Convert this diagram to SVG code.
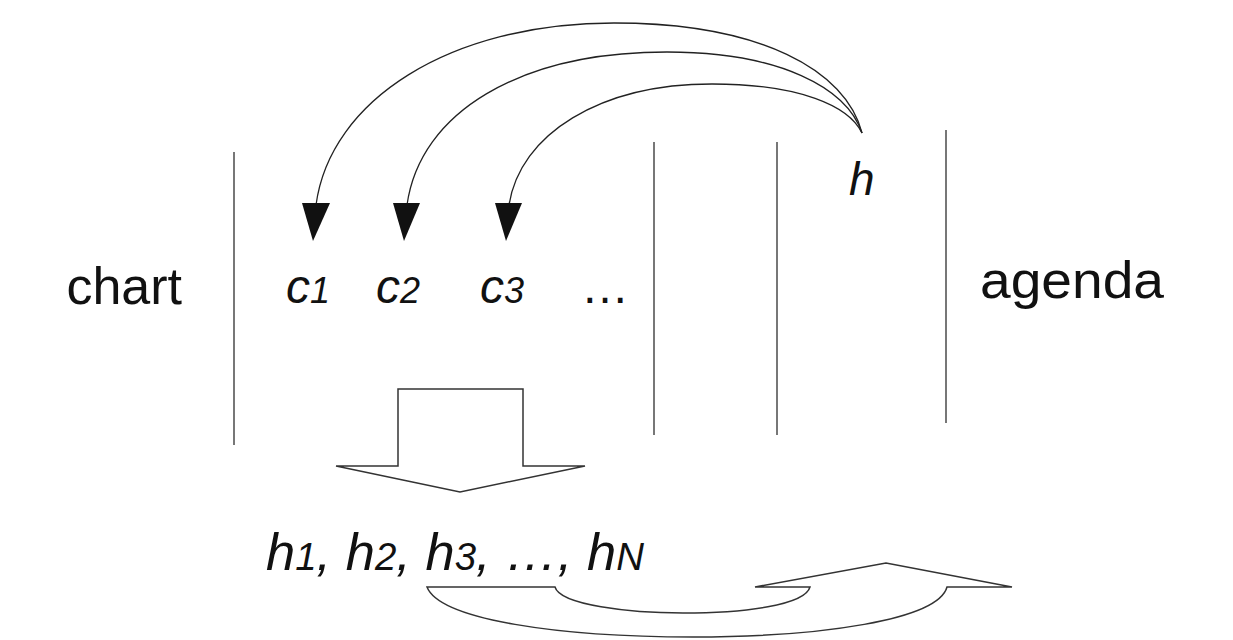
<svg xmlns="http://www.w3.org/2000/svg" width="1233" height="640" viewBox="0 0 1233 640">
<style>
.t{font-family:"Liberation Sans",Arial,sans-serif;fill:#111}
.i{font-style:italic}
.vl{stroke:#555;stroke-width:1.6;fill:none}
.arc{stroke:#222;stroke-width:1.3;fill:none}
.head{fill:#111;stroke:none}
.bigarrow{fill:#fff;stroke:#333;stroke-width:1.5;stroke-linejoin:miter}
</style>
<rect width="1233" height="640" fill="#fff"/>
<g id="dividers">
<line class="vl" x1="234" y1="152" x2="234" y2="445"/>
<line class="vl" x1="654" y1="142" x2="654" y2="435"/>
<line class="vl" x1="777" y1="142" x2="777" y2="435"/>
<line class="vl" x1="946" y1="130" x2="946" y2="423"/>
</g>
<g id="chart"><text class="t" x="182" y="304" font-size="52" text-anchor="end">chart</text></g>
<g id="agenda"><text class="t" x="980" y="298" font-size="52" textLength="184" lengthAdjust="spacingAndGlyphs">agenda</text></g>
<g id="h"><text class="t i" x="849" y="195" font-size="46">h</text></g>
<g id="c1"><text class="t i" x="286" y="303" font-size="48">c<tspan font-size="36">1</tspan></text></g>
<g id="c2"><text class="t i" x="376" y="303" font-size="48">c<tspan font-size="36">2</tspan></text></g>
<g id="c3"><text class="t i" x="480" y="303" font-size="48">c<tspan font-size="36">3</tspan></text></g>
<g id="dots"><text class="t" x="581" y="303" font-size="48">…</text></g>
<g id="hlist"><text class="t i" x="266" y="570" font-size="52" textLength="378" lengthAdjust="spacingAndGlyphs">h<tspan font-size="38">1</tspan>, h<tspan font-size="38">2</tspan>, h<tspan font-size="38">3</tspan>, …, h<tspan font-size="38">N</tspan></text></g>
<g id="connectors">
<path class="arc" d="M 862 133 C 846 70, 760 23, 614 23 C 450 23, 330 100, 316 205"/>
<path class="arc" d="M 862 133 C 847 88, 780 52, 667 52 C 520 52, 420 112, 407 205"/>
<path class="arc" d="M 862 133 C 849 106, 800 84, 712 84 C 600 84, 520 134, 509 205"/>
<polygon class="head" points="302,203 330,203 313,241"/>
<polygon class="head" points="393,203 420,203 404,241"/>
<polygon class="head" points="495,203 522,203 506,241"/>
</g>
<g id="down-arrow"><path class="bigarrow" d="M 398 389 L 523 389 L 523 466 L 585 466 L 460 492 L 336 466 L 398 466 Z"/></g>
<g id="u-arrow"><path class="bigarrow" d="M 427 587 L 555 587 C 560 605, 630 613, 683 613 C 745 613, 805 605, 810 587 L 755 587 L 886 563 L 1012 587 L 947 587 C 938 620, 820 637, 693 637 C 560 637, 440 620, 427 587 Z"/></g>
</svg>
